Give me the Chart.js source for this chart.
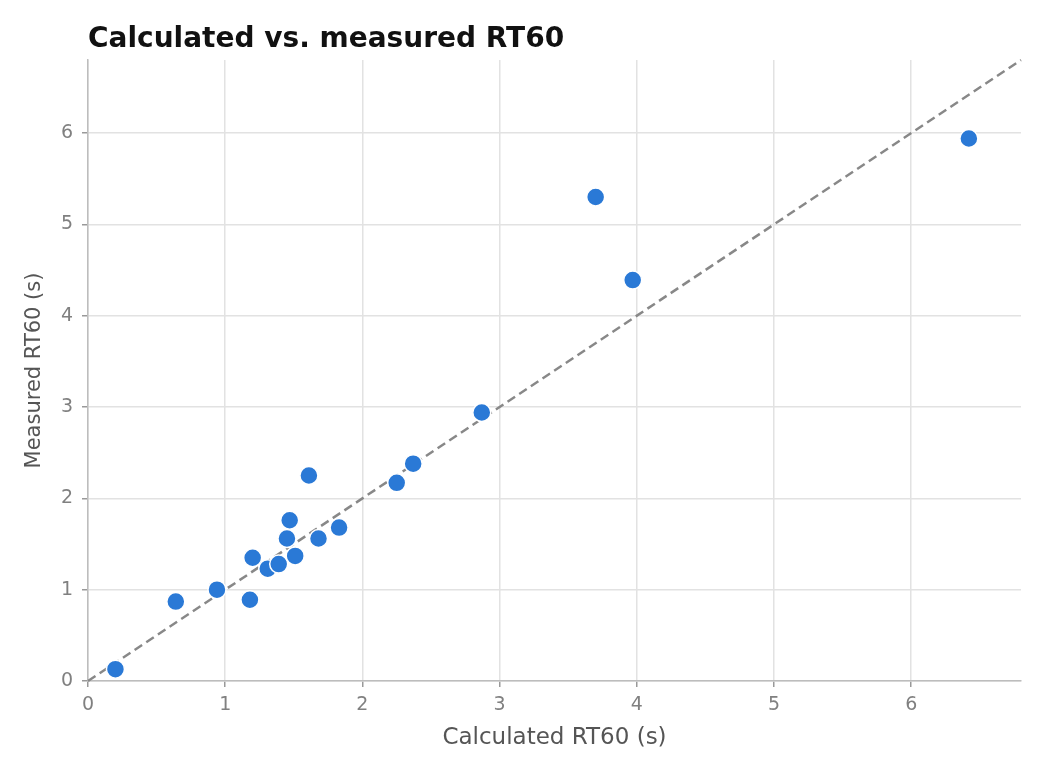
<!DOCTYPE html>
<html>
<head>
<meta charset="utf-8">
<title>Calculated vs. measured RT60</title>
<script src="https://cdn.jsdelivr.net/npm/chart.js@4.4.1/dist/chart.umd.min.js"></script>
<style>
  body { margin: 0; background: #fff; }
  #wrap { width: 1047px; height: 776px; position: relative; }
</style>
</head>
<body>
<div id="wrap"><canvas id="myChart"></canvas></div>
<script>
// Calculated RT60 (s) vs measured RT60 (s)
const calculated = [0.20, 0.64, 0.94, 1.18, 1.20, 1.31, 1.39, 1.45, 1.47, 1.51, 1.61, 1.68, 1.83, 2.25, 2.37, 2.87, 3.70, 3.97, 6.42];
const measured   = [0.13, 0.87, 1.00, 0.89, 1.35, 1.23, 1.28, 1.56, 1.76, 1.37, 2.25, 1.56, 1.68, 2.17, 2.38, 2.94, 5.30, 4.39, 5.94];

// reference line y = x
const refLineX = [0, 6.8];
const refLineY = [0, 6.8];

const tickValues = [0, 1, 2, 3, 4, 5, 6];
const axisMax = 6.8;

const chartTitle = 'Calculated vs. measured RT60';
const xTitle = 'Calculated RT60 (s)';
const yTitle = 'Measured RT60 (s)';

const fontFamily = '"DejaVu Sans", sans-serif';

// draws the chart title lined up with the left edge of the plot area
const titlePlugin = {
    id: 'leftTitle',
    afterDraw(chart) {
        const ctx = chart.ctx;
        ctx.save();
        ctx.font = 'bold 28px ' + fontFamily;
        ctx.fillStyle = '#111';
        ctx.textAlign = 'left';
        ctx.textBaseline = 'alphabetic';
        ctx.fillText(chartTitle, chart.chartArea.left, 47);
        ctx.restore();
    }
};

function axis(titleText, position) {
    const isY = position === 'left';
    return {
        type: 'linear',
        position: position,
        min: 0,
        max: axisMax,
        afterBuildTicks: scale => {
            scale.ticks = tickValues.map(v => ({ value: v }));
        },
        afterFit: scale => {
            if (isY) scale.width = 88;
            else scale.height = 95;
        },
        grid: {
            color: '#e2e2e2',
            lineWidth: 1.5,
            tickColor: '#999',
            tickLength: 6,
            drawTicks: true
        },
        border: {
            display: true,
            color: '#bdbdbd',
            width: 1.5
        },
        ticks: {
            color: '#808080',
            padding: isY ? 9 : 7,
            font: { family: fontFamily, size: 19 }
        },
        title: {
            display: true,
            text: titleText,
            color: '#555',
            font: { family: fontFamily, size: isY ? 21 : 23 },
            padding: isY ? { top: 22 } : { bottom: 24 }
        }
    };
}

const chartData = {
    datasets: [
        {
            type: 'line',
            label: 'y = x',
            data: refLineX.map((x, i) => ({ x: x, y: refLineY[i] })),
            borderColor: '#888888',
            borderWidth: 2.5,
            borderDash: [9, 5],
            pointRadius: 0,
            fill: false,
            order: 2
        },
        {
            type: 'scatter',
            label: 'Rooms',
            data: calculated.map((x, i) => ({ x: x, y: measured[i] })),
            backgroundColor: '#2a79d6',
            borderColor: '#ffffff',
            borderWidth: 1.5,
            pointRadius: 9,
            order: 1
        }
    ]
};

const config = {
    type: 'scatter',
    data: chartData,
    plugins: [titlePlugin],
    options: {
        responsive: true,
        maintainAspectRatio: false,
        animation: false,
        clip: false,
        layout: {
            padding: { top: 60, right: 26, left: 0, bottom: 0 }
        },
        scales: {
            x: axis(xTitle, 'bottom'),
            y: axis(yTitle, 'left')
        },
        plugins: {
            legend: { display: false },
            tooltip: { enabled: true },
            title: { display: false }
        }
    }
};

window.myChart = new Chart(document.getElementById('myChart'), config);
</script>
</body>
</html>
